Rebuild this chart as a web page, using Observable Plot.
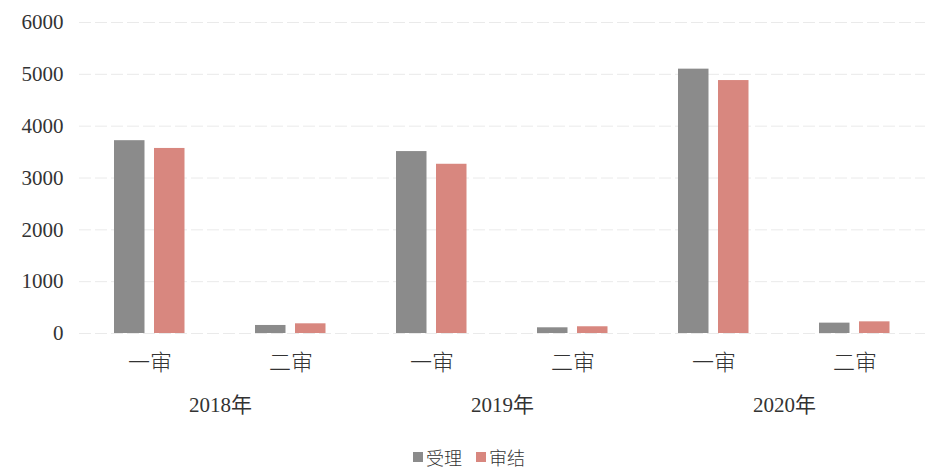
<!DOCTYPE html>
<html>
<head>
<meta charset="utf-8">
<script src="https://cdn.jsdelivr.net/npm/d3@7"></script>
<script src="https://cdn.jsdelivr.net/npm/@observablehq/plot@0.6"></script>
<style>
  html, body { margin: 0; padding: 0; background: #fff; overflow: hidden; }
  #chart { width: 944px; }
  #chart svg { display: block; }
  .legend { display: flex; justify-content: center; align-items: center; gap: 14px;
    font-family: "Noto Sans CJK SC", sans-serif; font-weight: 300; font-size: 18px; line-height: 22px; color: #333; height: 22px; margin-left: -6px; margin-top: 14px; }
  .legend span.sw { display: inline-block; width: 10px; height: 10px; margin-right: 3px; }
  .legend .item { display: flex; align-items: center; }
</style>
</head>
<body>
<div id="chart"></div>
<script>
const years = ["2018年", "2019年", "2020年"];
const stages = ["一审", "二审"];
const series = ["受理", "审结"];
// values in order: 2018一审, 2018二审, 2019一审, 2019二审, 2020一审, 2020二审
const accepted = [3720, 155, 3510, 110, 5100, 200];
const concluded = [3570, 187, 3265, 130, 4880, 225];
const yTicks = [0, 1000, 2000, 3000, 4000, 5000, 6000];
const colors = ["#8b8b8b", "#d8877f"];

const rows = [];
years.forEach((yr, i) => stages.forEach((st, j) => {
  const k = i * stages.length + j;
  rows.push({year: yr, stage: st, series: series[0], value: accepted[k]});
  rows.push({year: yr, stage: st, series: series[1], value: concluded[k]});
}));

const serif = "'Liberation Serif', 'Noto Sans CJK SC', serif";

const chart = Plot.plot({
  width: 944,
  height: 432,
  marginLeft: 78,
  marginRight: 19,
  marginTop: 22,
  marginBottom: 99,
  style: {fontFamily: serif, background: "#fff", color: "#333"},
  fx: {domain: years, padding: 0, axis: null, label: null},
  x: {domain: stages, padding: 0, label: null, axis: null},
  y: {domain: [0, 6000], ticks: yTicks, label: null, axis: null},
  color: {domain: series, range: colors},
  marks: [
    Plot.gridY(yTicks, {stroke: "#dcdcdc", strokeOpacity: 0.6, strokeDasharray: "12,4"}),
    Plot.axisY(yTicks, {tickSize: 0, tickPadding: 16, fontSize: 21, tickFormat: d => String(d), fill: "#333"}),
    Plot.barY(rows.filter(d => d.series === series[0]), {fx: "year", x: "stage", y: "value", fill: "series", insetLeft: 35, insetRight: 75.5}),
    Plot.barY(rows.filter(d => d.series === series[1]), {fx: "year", x: "stage", y: "value", fill: "series", insetLeft: 75, insetRight: 35.5}),
    Plot.axisX({tickSize: 0, tickPadding: 21, fontSize: 22, fill: "#333", fontFamily: "'Noto Sans CJK SC', sans-serif", fontWeight: 300}),
    Plot.text(years, {fx: d => d, text: d => d, frameAnchor: "bottom", dy: 78, fontSize: 21, fill: "#333", fontFamily: serif})
  ]
});
document.getElementById("chart").appendChild(chart);

const legend = document.createElement("div");
legend.className = "legend";
series.forEach((s, i) => {
  const it = document.createElement("div");
  it.className = "item";
  it.innerHTML = `<span class="sw" style="background:${colors[i]}"></span>${s}`;
  legend.appendChild(it);
});
document.getElementById("chart").appendChild(legend);
</script>
</body>
</html>
